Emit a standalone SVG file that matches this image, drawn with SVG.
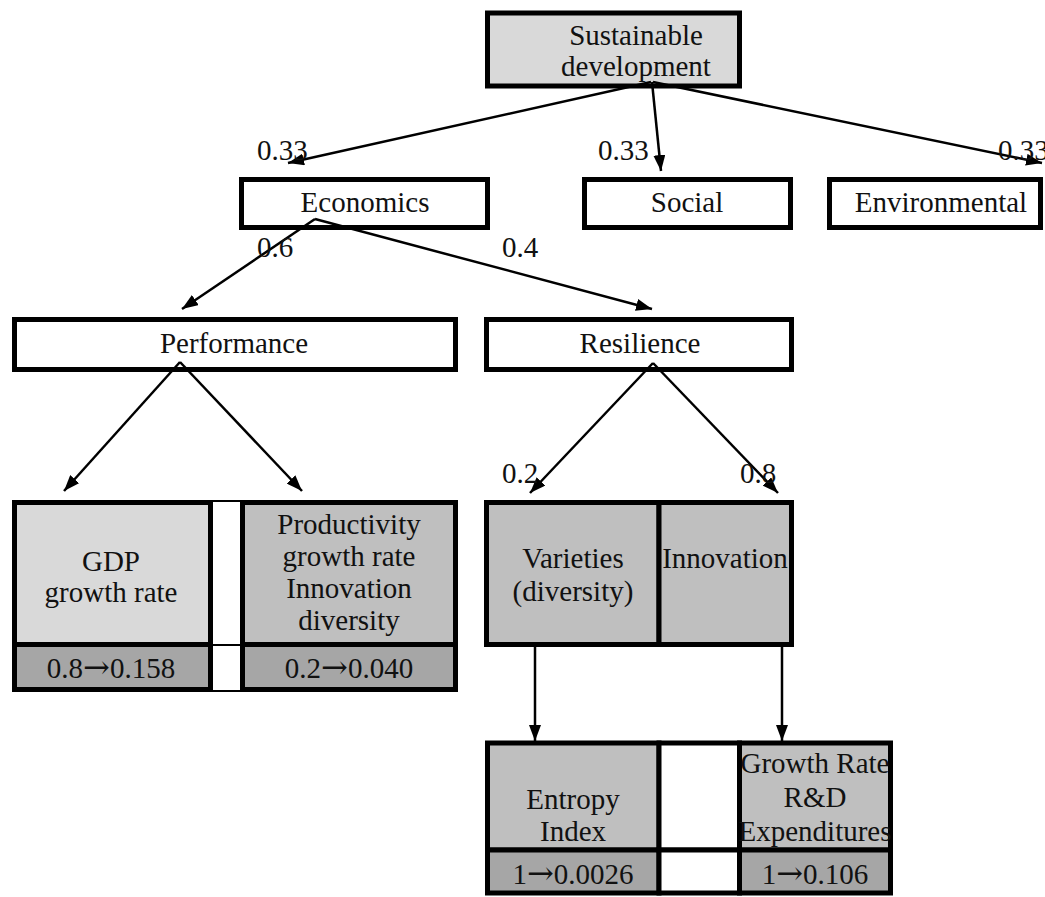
<svg xmlns="http://www.w3.org/2000/svg" width="1045" height="897" viewBox="0 0 1045 897">
<style>
text{font-family:"Liberation Serif","Times New Roman",serif;font-size:29px;fill:#111;text-anchor:middle}
text.lbl{text-anchor:start}
tspan.ar{font-family:"DejaVu Serif",serif;font-size:32px}
.box{stroke:#000;stroke-width:5}
.w{fill:#fff}
.l1{fill:#d9d9d9}
.l2{fill:#bfbfbf}
.l3{fill:#a6a6a6}
.thin{stroke:#000;stroke-width:2}
.con{stroke:#000;stroke-width:2.5;fill:none;marker-end:url(#ah)}
</style>
<defs>
<marker id="ah" viewBox="0 0 16 12" refX="16" refY="6" markerWidth="16" markerHeight="12" markerUnits="userSpaceOnUse" orient="auto">
<path d="M0,0 L16,6 L0,12 z" fill="#000"/>
</marker>
</defs>
<rect width="1045" height="897" fill="#fff"/>

<g id="sustainable">
<rect class="box l1" x="487.5" y="13" width="252" height="73"/>
<text x="636" y="45">Sustainable</text>
<text x="636" y="76">development</text>
</g>

<g id="economics">
<rect class="box w" x="241.5" y="179.5" width="246" height="48"/>
<text x="365" y="212">Economics</text>
</g>
<g id="social">
<rect class="box w" x="584.5" y="179.5" width="206" height="48"/>
<text x="687" y="212">Social</text>
</g>
<g id="environmental">
<rect class="box w" x="829.5" y="179.5" width="211" height="48"/>
<text x="941" y="212">Environmental</text>
</g>

<g id="performance">
<rect class="box w" x="14.5" y="319.5" width="441" height="50"/>
<text x="234" y="353">Performance</text>
</g>
<g id="resilience">
<rect class="box w" x="486.5" y="319.5" width="305" height="50"/>
<text x="640" y="353">Resilience</text>
</g>

<g id="gdp">
<rect class="box l1" x="14.5" y="502.5" width="196" height="142"/>
<rect class="box l3" x="14.5" y="644.5" width="196" height="45"/>
<text x="111" y="571">GDP</text>
<text x="111" y="602">growth rate</text>
<text x="111" y="678">0.8<tspan class="ar">→</tspan>0.158</text>
</g>
<g id="gap-left">
<rect x="213" y="501" width="27" height="190" fill="#fff"/>
<line class="thin" x1="213" y1="501" x2="240" y2="501"/>
<line class="thin" x1="213" y1="645" x2="240" y2="645"/>
<line class="thin" x1="213" y1="691" x2="240" y2="691"/>
</g>
<g id="productivity">
<rect class="box l2" x="242.5" y="502.5" width="213" height="142"/>
<rect class="box l3" x="242.5" y="644.5" width="213" height="45"/>
<text x="349" y="534">Productivity</text>
<text x="349" y="566">growth rate</text>
<text x="349" y="598">Innovation</text>
<text x="349" y="630">diversity</text>
<text x="349" y="678">0.2<tspan class="ar">→</tspan>0.040</text>
</g>

<g id="varieties">
<rect class="box l2" x="486.5" y="502.5" width="172.5" height="142"/>
<text x="573" y="568">Varieties</text>
<text x="573" y="601">(diversity)</text>
</g>
<g id="innovation">
<rect class="box l2" x="659" y="502.5" width="132.5" height="142"/>
<text x="725" y="568">Innovation</text>
</g>

<g id="entropy">
<rect class="box l2" x="487.5" y="743" width="171.5" height="107"/>
<rect class="box l3" x="487.5" y="850" width="171.5" height="43"/>
<text x="573" y="809">Entropy</text>
<text x="573" y="841">Index</text>
<text x="573" y="884">1<tspan class="ar">→</tspan>0.0026</text>
</g>
<g id="gap-right">
<rect class="box w" x="659" y="743" width="80.5" height="107"/>
<rect class="box w" x="659" y="850" width="80.5" height="43"/>
</g>
<g id="rd">
<rect class="box l2" x="739.5" y="743" width="151" height="107"/>
<rect class="box l3" x="739.5" y="850" width="151" height="43"/>
<text x="815" y="773">Growth Rate</text>
<text x="815" y="807">R&amp;D</text>
<text x="815" y="841">Expenditures</text>
<text x="815" y="884">1<tspan class="ar">→</tspan>0.106</text>
</g>

<g id="connectors">
<line class="con" x1="651" y1="82" x2="288" y2="163"/>
<line class="con" x1="652" y1="82" x2="661" y2="171"/>
<line class="con" x1="653" y1="82" x2="1042" y2="163"/>
<line class="con" x1="315" y1="219" x2="182" y2="309"/>
<line class="con" x1="315" y1="219" x2="652" y2="309"/>
<line class="con" x1="180" y1="362" x2="64" y2="491"/>
<line class="con" x1="180" y1="362" x2="302" y2="491"/>
<line class="con" x1="653" y1="363" x2="530" y2="493"/>
<line class="con" x1="653" y1="363" x2="778" y2="493"/>
<line class="con" x1="535" y1="647" x2="535" y2="741"/>
<line class="con" x1="782" y1="647" x2="782" y2="741"/>
</g>
<g id="labels">
<text class="lbl" x="257" y="160">0.33</text>
<text class="lbl" x="598" y="160">0.33</text>
<text class="lbl" x="998" y="160">0.33</text>
<text class="lbl" x="257" y="257">0.6</text>
<text class="lbl" x="502" y="257">0.4</text>
<text class="lbl" x="502" y="483">0.2</text>
<text class="lbl" x="740" y="483">0.8</text>
</g>
</svg>
